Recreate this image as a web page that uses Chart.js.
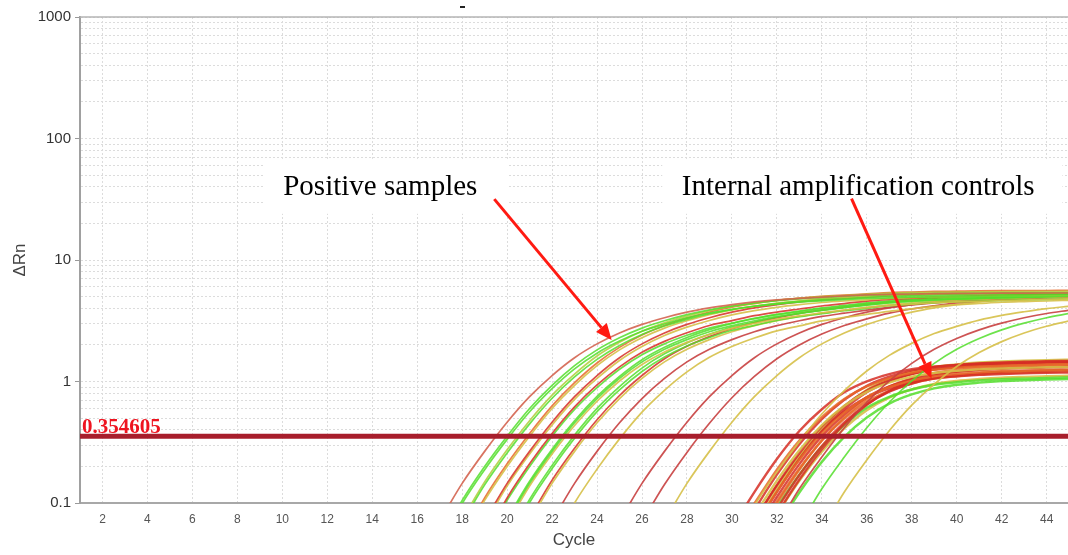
<!DOCTYPE html>
<html>
<head>
<meta charset="utf-8">
<title>Amplification plot</title>
<script src="https://cdn.jsdelivr.net/npm/chart.js@4.4.0/dist/chart.umd.min.js"></script>
<style>
  body { margin: 0; background: #fff; }
  #chart { display: block; }
</style>
</head>
<body>
<canvas id="chart" width="1068" height="555"></canvas>
<script>
// axis ticks
const cycleTicks = [2, 4, 6, 8, 10, 12, 14, 16, 18, 20, 22, 24, 26, 28, 30, 32, 34, 36, 38, 40, 42, 44];
const decadeLabels = [0.1, 1, 10, 100, 1000];
const minorSteps = [1, 2, 3, 4, 5, 6, 7, 8, 9];

// threshold
const thresholdValue = 0.354605;
const thresholdLabel = '0.354605';

// positive samples: first cycle of each curve, colour, ΔRn per cycle
const positiveStart = [17, 17, 17, 18, 18, 18, 18, 19, 19, 19, 19, 20, 20, 20, 20, 20, 21, 21, 22, 22, 25, 26, 27, 30, 32, 33, 34];
const positiveColor = ['muted', 'green', 'green', 'green', 'olive', 'yellow', 'orange', 'red', 'yellow', 'red', 'green', 'green', 'yellow', 'green', 'green', 'green', 'yellow', 'red', 'dark', 'yellow', 'dark', 'dark', 'yellow', 'yellow', 'dark', 'green', 'yellow'];
const positiveValues = [
  [0.071,0.145,0.266,0.462,0.75,1.12,1.57,2.04,2.51,2.95,3.35,3.72,4.03,4.29,4.52,4.70,4.84,4.95,5.07,5.16,5.22,5.25,5.29,5.31,5.32,5.33,5.34,5.35,5.35],
  [0.048,0.105,0.20,0.355,0.60,0.93,1.35,1.82,2.29,2.75,3.16,3.55,3.89,4.17,4.42,4.62,4.79,4.90,5.01,5.13,5.19,5.25,5.28,5.30,5.32,5.33,5.34,5.35,5.35],
  [0.045,0.099,0.188,0.334,0.564,0.874,1.27,1.71,2.15,2.59,2.97,3.34,3.66,3.92,4.16,4.34,4.50,4.61,4.71,4.82,4.88,4.94,4.96,4.98,5.00,5.01,5.02,5.03,5.03],
  [0.069,0.141,0.258,0.448,0.728,1.09,1.52,1.98,2.44,2.86,3.25,3.61,3.91,4.16,4.38,4.56,4.70,4.80,4.92,5.01,5.06,5.09,5.13,5.15,5.16,5.17,5.18,5.19],
  [0.073,0.149,0.274,0.476,0.773,1.15,1.62,2.10,2.59,3.04,3.45,3.83,4.15,4.42,4.66,4.84,4.99,5.10,5.22,5.32,5.38,5.41,5.45,5.47,5.48,5.49,5.50,5.51],
  [0.048,0.105,0.20,0.355,0.60,0.93,1.35,1.82,2.29,2.75,3.16,3.55,3.89,4.17,4.42,4.62,4.79,4.90,5.01,5.13,5.19,5.25,5.28,5.30,5.32,5.33,5.34,5.35],
  [0.050,0.110,0.210,0.373,0.630,0.977,1.42,1.91,2.41,2.89,3.32,3.73,4.09,4.38,4.64,4.85,5.03,5.15,5.26,5.39,5.45,5.51,5.54,5.57,5.59,5.60,5.61,5.62],
  [0.071,0.145,0.266,0.462,0.75,1.12,1.57,2.04,2.51,2.95,3.35,3.72,4.03,4.29,4.52,4.70,4.84,4.95,5.07,5.16,5.22,5.25,5.29,5.31,5.32,5.33,5.34],
  [0.067,0.138,0.253,0.439,0.713,1.06,1.49,1.94,2.39,2.80,3.18,3.53,3.83,4.08,4.29,4.47,4.60,4.70,4.82,4.90,4.96,4.99,5.03,5.05,5.05,5.06,5.07],
  [0.050,0.110,0.210,0.373,0.618,0.936,1.32,1.74,2.14,2.52,2.89,3.17,3.48,3.73,3.95,4.18,4.38,4.59,4.75,4.85,4.97,5.03,5.08,5.15,5.20,5.26,5.32],
  [0.048,0.105,0.20,0.355,0.589,0.891,1.26,1.66,2.04,2.40,2.75,3.02,3.31,3.55,3.76,3.98,4.17,4.37,4.52,4.62,4.73,4.79,4.84,4.90,4.95,5.01,5.07],
  [0.071,0.145,0.266,0.457,0.724,1.06,1.45,1.84,2.21,2.57,2.88,3.16,3.43,3.65,3.87,4.07,4.27,4.44,4.57,4.68,4.76,4.81,4.87,4.93,4.98,5.04],
  [0.067,0.138,0.253,0.434,0.688,1.01,1.38,1.75,2.10,2.44,2.74,3.00,3.26,3.47,3.68,3.87,4.06,4.22,4.34,4.45,4.52,4.57,4.63,4.68,4.73,4.79],
  [0.074,0.151,0.277,0.475,0.753,1.10,1.51,1.91,2.30,2.67,3.00,3.29,3.57,3.80,4.03,4.23,4.44,4.62,4.75,4.87,4.95,5.00,5.07,5.13,5.18,5.24],
  [0.049,0.107,0.204,0.362,0.601,0.909,1.29,1.69,2.08,2.45,2.81,3.08,3.38,3.62,3.84,4.06,4.25,4.46,4.61,4.71,4.83,4.89,4.94,5.00,5.05,5.11],
  [0.046,0.101,0.192,0.341,0.565,0.855,1.21,1.59,1.96,2.30,2.64,2.90,3.18,3.41,3.61,3.82,4.00,4.20,4.34,4.44,4.54,4.60,4.65,4.70,4.75,4.81],
  [0.071,0.145,0.266,0.457,0.724,1.06,1.45,1.84,2.21,2.57,2.88,3.16,3.43,3.65,3.87,4.07,4.27,4.44,4.57,4.68,4.76,4.81,4.87,4.93,4.98],
  [0.075,0.154,0.282,0.484,0.767,1.12,1.54,1.95,2.34,2.72,3.05,3.35,3.64,3.87,4.10,4.31,4.53,4.71,4.84,4.96,5.05,5.10,5.16,5.23,5.28],
  [0.071,0.145,0.266,0.457,0.724,1.06,1.45,1.84,2.21,2.57,2.88,3.16,3.43,3.65,3.87,4.07,4.27,4.44,4.57,4.68,4.76,4.81,4.87,4.93],
  [0.046,0.100,0.190,0.337,0.560,0.846,1.20,1.58,1.94,2.28,2.61,2.87,3.15,3.37,3.57,3.78,3.96,4.15,4.29,4.39,4.49,4.55,4.60,4.66],
  [0.071,0.145,0.266,0.462,0.75,1.12,1.57,2.04,2.51,2.95,3.35,3.72,4.03,4.29,4.52,4.70,4.84,4.95,5.07,5.16,5.22],
  [0.070,0.142,0.261,0.453,0.735,1.10,1.54,2.00,2.46,2.89,3.28,3.65,3.95,4.20,4.43,4.61,4.74,4.85,4.97,5.06],
  [0.071,0.145,0.266,0.462,0.75,1.12,1.57,2.04,2.51,2.95,3.35,3.72,4.03,4.29,4.52,4.70,4.84,4.95,5.07],
  [0.043,0.095,0.18,0.32,0.54,0.84,1.22,1.64,2.06,2.48,2.84,3.20,3.50,3.75,3.98,4.16],
  [0.064,0.131,0.239,0.416,0.675,1.01,1.41,1.84,2.26,2.66,3.02,3.35,3.63,3.86],
  [0.064,0.131,0.239,0.416,0.675,1.01,1.41,1.84,2.26,2.66,3.02,3.35,3.63],
  [0.060,0.123,0.226,0.393,0.638,0.952,1.33,1.73,2.13,2.51,2.85,3.16]
];

// internal amplification controls: all start at cycle 30
const iacStart = 30;
const iacColor = ['red', 'orange', 'red', 'yellow', 'red', 'orange', 'red', 'red', 'yellow', 'orange', 'red', 'red', 'green', 'yellow', 'red', 'orange', 'green'];
const iacValues = [
  [0.062,0.123,0.230,0.391,0.591,0.815,1.003,1.152,1.263,1.322,1.370,1.401,1.417,1.433,1.450,1.455],
  [0.052,0.099,0.188,0.327,0.508,0.718,0.909,1.063,1.178,1.248,1.295,1.329,1.349,1.365,1.380,1.389],
  [0.045,0.088,0.171,0.305,0.489,0.707,0.921,1.094,1.228,1.316,1.370,1.410,1.435,1.452,1.468,1.476],
  [0.041,0.079,0.153,0.272,0.437,0.631,0.822,0.977,1.096,1.175,1.223,1.259,1.281,1.296,1.311,1.318],
  [0.037,0.072,0.141,0.257,0.426,0.629,0.843,1.020,1.158,1.254,1.310,1.352,1.379,1.394,1.410,1.423],
  [0.033,0.064,0.124,0.226,0.374,0.553,0.742,0.897,1.018,1.103,1.152,1.189,1.213,1.226,1.241,1.252],
  [0.031,0.062,0.123,0.230,0.391,0.591,0.815,1.003,1.152,1.263,1.322,1.370,1.401,1.417,1.433,1.450],
  [0.028,0.056,0.112,0.209,0.355,0.537,0.741,0.912,1.047,1.148,1.202,1.245,1.274,1.288,1.303,1.318],
  [0.032,0.064,0.129,0.240,0.408,0.618,0.852,1.049,1.204,1.320,1.382,1.432,1.465,1.481,1.498,1.516],
  [0.025,0.049,0.099,0.188,0.327,0.508,0.718,0.909,1.063,1.178,1.248,1.295,1.329,1.349,1.365,1.380],
  [0.023,0.045,0.089,0.170,0.295,0.460,0.650,0.823,0.961,1.066,1.130,1.171,1.203,1.221,1.235,1.248],
  [0.021,0.041,0.081,0.156,0.277,0.446,0.644,0.838,0.997,1.118,1.199,1.247,1.284,1.307,1.322,1.337],
  [0.023,0.046,0.092,0.171,0.291,0.440,0.608,0.748,0.859,0.941,0.986,1.021,1.045,1.056,1.068,1.081],
  [0.020,0.040,0.080,0.152,0.264,0.411,0.581,0.736,0.860,0.954,1.011,1.048,1.076,1.092,1.105,1.117],
  [0.036,0.071,0.138,0.245,0.393,0.568,0.740,0.879,0.986,1.058,1.101,1.133,1.153,1.166,1.180,1.186],
  [0.026,0.052,0.103,0.192,0.327,0.494,0.682,0.839,0.963,1.056,1.106,1.145,1.172,1.185,1.199,1.213],
  [0.016,0.032,0.063,0.122,0.218,0.350,0.505,0.658,0.782,0.877,0.940,0.978,1.007,1.025,1.037,1.049]
];

// annotations, in chart units (cycle, ΔRn)
const noteTexts = ['Positive samples', 'Internal amplification controls'];
const noteBoxCycles = [[9.15, 20.05], [26.9, 44.7]];
const noteBoxValues = [[68, 24], [68, 24]];
const noteTextAt = [[10.04, 34.3], [27.77, 34.3]];
const arrowFrom = [[19.43, 31.7], [35.32, 32]];
const arrowTo = [[24.65, 2.2], [38.88, 1.06]];

const palette = {
  red: 'rgba(214,46,36,0.85)',
  dark: 'rgba(200,64,64,0.9)',
  muted: 'rgba(212,100,80,0.9)',
  orange: 'rgba(232,104,40,0.85)',
  yellow: 'rgba(214,192,72,0.9)',
  olive: 'rgba(176,204,56,0.85)',
  green: 'rgba(84,222,44,0.85)'
};

const gridValues = [];
decadeLabels.slice(0, 4).forEach(d => minorSteps.forEach(m => gridValues.push(d * m)));
gridValues.push(1000);

function toPoints(start, values) {
  return values.map((v, i) => ({x: start + i, y: v}));
}

const datasets = [{
  data: [{x: 1, y: thresholdValue}, {x: 44.95, y: thresholdValue}],
  borderColor: '#a81e2c',
  borderWidth: 5,
  order: -1
}];
positiveValues.forEach((vals, i) => {
  datasets.push({data: toPoints(positiveStart[i], vals), borderColor: palette[positiveColor[i]], borderWidth: 1.7});
});
iacValues.forEach((vals, i) => {
  datasets.push({data: toPoints(iacStart, vals), borderColor: palette[iacColor[i]], borderWidth: 2.4});
});

const serif = '"Liberation Serif", "Times New Roman", serif';
const sans = '"Liberation Sans", Arial, sans-serif';

const notesPlugin = {
  id: 'notes',
  beforeDatasetsDraw(chart) {
    const {ctx, scales: {x, y}} = chart;
    ctx.save();
    ctx.fillStyle = '#ffffff';
    noteBoxCycles.forEach((c, i) => {
      const x0 = x.getPixelForValue(c[0]), x1 = x.getPixelForValue(c[1]);
      const y0 = y.getPixelForValue(noteBoxValues[i][0]), y1 = y.getPixelForValue(noteBoxValues[i][1]);
      ctx.fillRect(x0, y0, x1 - x0, y1 - y0);
    });
    ctx.restore();
  },
  afterDatasetsDraw(chart) {
    const {ctx, chartArea, scales: {x, y}} = chart;
    ctx.save();
    // threshold value
    ctx.font = 'bold 21px ' + serif;
    ctx.fillStyle = '#ee1420';
    ctx.textBaseline = 'alphabetic';
    ctx.textAlign = 'left';
    ctx.fillText(thresholdLabel, chartArea.left + 2, y.getPixelForValue(thresholdValue) - 3);

    // labels
    ctx.font = '29px ' + serif;
    ctx.fillStyle = '#000';
    noteTexts.forEach((t, i) => {
      ctx.fillText(t, x.getPixelForValue(noteTextAt[i][0]), y.getPixelForValue(noteTextAt[i][1]));
    });

    // arrows
    ctx.strokeStyle = '#ff1a12';
    ctx.fillStyle = '#ff1a12';
    ctx.lineWidth = 3;
    arrowFrom.forEach((f, i) => {
      const x0 = x.getPixelForValue(f[0]), y0 = y.getPixelForValue(f[1]);
      const x1 = x.getPixelForValue(arrowTo[i][0]), y1 = y.getPixelForValue(arrowTo[i][1]);
      const ang = Math.atan2(y1 - y0, x1 - x0);
      const head = 16, half = 7;
      const bx = x1 - head * Math.cos(ang), by = y1 - head * Math.sin(ang);
      ctx.beginPath();
      ctx.moveTo(x0, y0);
      ctx.lineTo(bx, by);
      ctx.stroke();
      ctx.beginPath();
      ctx.moveTo(x1, y1);
      ctx.lineTo(bx + half * Math.sin(ang), by - half * Math.cos(ang));
      ctx.lineTo(bx - half * Math.sin(ang), by + half * Math.cos(ang));
      ctx.closePath();
      ctx.fill();
    });
    ctx.restore();
  },
  afterDraw(chart) {
    const {ctx, chartArea} = chart;
    ctx.save();
    ctx.strokeStyle = '#b4b4b4';
    ctx.lineWidth = 1.5;
    ctx.beginPath();
    ctx.moveTo(chartArea.left, chartArea.top);
    ctx.lineTo(chartArea.right, chartArea.top);
    ctx.stroke();
    ctx.fillStyle = '#222';
    ctx.fillRect(chartArea.left + 380, 6, 5, 2);
    ctx.restore();
  }
};

new Chart(document.getElementById('chart'), {
  type: 'line',
  data: {datasets: datasets},
  options: {
    responsive: false,
    animation: false,
    devicePixelRatio: 1,
    layout: {padding: {top: 17, right: 0, left: 0, bottom: 0}},
    plugins: {legend: {display: false}, tooltip: {enabled: false}},
    elements: {
      point: {radius: 0},
      line: {cubicInterpolationMode: 'monotone', fill: false}
    },
    scales: {
      x: {
        type: 'linear',
        min: 1,
        max: 44.95,
        afterBuildTicks: s => { s.ticks = cycleTicks.map(v => ({value: v})); },
        afterFit: s => { s.height = 52; },
        ticks: {autoSkip: false, maxRotation: 0, padding: 9, color: '#555', font: {family: sans, size: 12}},
        grid: {color: '#dcdcdc', drawTicks: false},
        border: {color: '#a8a8a8', width: 2, dash: [2, 2]},
        title: {display: true, text: 'Cycle', color: '#444', font: {family: sans, size: 17}, padding: {top: 0, bottom: 4}}
      },
      y: {
        type: 'logarithmic',
        min: 0.1,
        max: 1000,
        afterBuildTicks: s => { s.ticks = gridValues.map(v => ({value: v})); },
        afterFit: s => { s.width = 80; },
        ticks: {
          autoSkip: false,
          padding: 4,
          color: '#333',
          font: {family: sans, size: 15},
          callback: v => decadeLabels.includes(v) ? String(v) : ''
        },
        grid: {
          color: '#dcdcdc',
          tickLength: 5,
          tickColor: c => decadeLabels.includes(c.tick && c.tick.value) ? '#999' : 'rgba(0,0,0,0)'
        },
        border: {color: '#a0a0a0', width: 2, dash: [2, 2]},
        title: {display: true, text: 'ΔRn', color: '#444', font: {family: sans, size: 17}, padding: {top: 10, bottom: 0}}
      }
    }
  },
  plugins: [notesPlugin]
});
</script>
</body>
</html>
